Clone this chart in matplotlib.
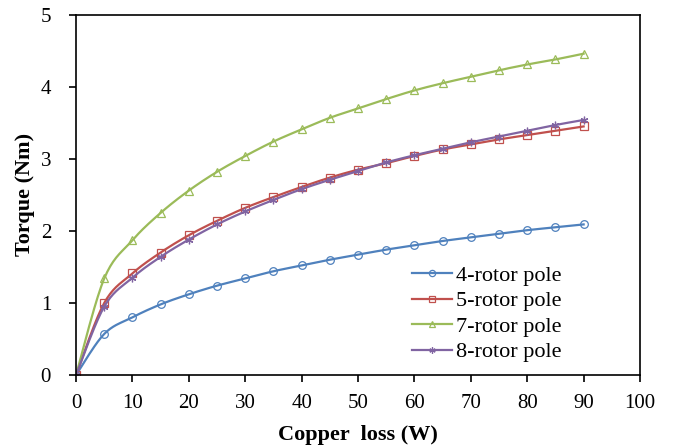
import numpy as np
import matplotlib.pyplot as plt

plt.rcParams['font.family'] = ['Liberation Serif', 'DejaVu Serif']

loss = [0, 5, 10, 15, 20, 25, 30, 35, 40, 45, 50, 55, 60, 65, 70, 75, 80, 85, 90]
pole4 = [0, 0.57, 0.80, 0.98, 1.12, 1.24, 1.34, 1.44, 1.52, 1.60, 1.67, 1.74, 1.80, 1.86, 1.91, 1.96, 2.01, 2.05, 2.09]
pole5 = [0, 1.00, 1.41, 1.70, 1.94, 2.14, 2.32, 2.47, 2.61, 2.74, 2.85, 2.94, 3.04, 3.13, 3.20, 3.27, 3.33, 3.39, 3.45]
pole7 = [0, 1.34, 1.87, 2.25, 2.56, 2.82, 3.04, 3.24, 3.41, 3.57, 3.70, 3.83, 3.95, 4.05, 4.14, 4.23, 4.31, 4.38, 4.46]
pole8 = [0, 0.95, 1.35, 1.64, 1.88, 2.09, 2.27, 2.43, 2.58, 2.71, 2.83, 2.95, 3.05, 3.14, 3.23, 3.31, 3.39, 3.47, 3.54]
labels = ['4-rotor pole', '5-rotor pole', '7-rotor pole', '8-rotor pole']


def smooth(x, y, n=20):
    # bezier smoothing through the points, like excel's smoothed line
    x = np.asarray(x, float)
    y = np.asarray(y, float)
    xs, ys = [], []
    for i in range(len(x) - 1):
        x0, y0 = (x[i - 1], y[i - 1]) if i > 0 else (x[i], y[i])
        x3, y3 = (x[i + 2], y[i + 2]) if i + 2 < len(x) else (x[i + 1], y[i + 1])
        c1x = x[i] + (x[i + 1] - x0) / 6
        c1y = y[i] + (y[i + 1] - y0) / 6
        c2x = x[i + 1] - (x3 - x[i]) / 6
        c2y = y[i + 1] - (y3 - y[i]) / 6
        t = np.linspace(0, 1, n)
        b0, b1, b2, b3 = (1 - t) ** 3, 3 * t * (1 - t) ** 2, 3 * t ** 2 * (1 - t), t ** 3
        xs.append(b0 * x[i] + b1 * c1x + b2 * c2x + b3 * x[i + 1])
        ys.append(b0 * y[i] + b1 * c1y + b2 * c2y + b3 * y[i + 1])
    return np.concatenate(xs), np.concatenate(ys)


fig = plt.figure(figsize=(6.73, 4.48), dpi=100)
ax = fig.add_axes([0.113, 0.163, 0.838, 0.804])

series = [pole4, pole5, pole7, pole8]
colors = ['#4F81BD', '#C0504D', '#9BBB59', '#8064A2']
markers = ['o', 's', '^', (6, 2, 0)]
for y, c, m, lab in zip(series, colors, markers, labels):
    sx, sy = smooth(loss, y)
    ax.plot(sx, sy, color=c, lw=1.6)
    ax.plot(loss, y, ls='none', marker=m, ms=5.5, mfc='none', mec=c, mew=0.9)
    ax.plot([], [], color=c, lw=1.6, marker=m, ms=4.5, mfc='none', mec=c, mew=0.9, label=lab)

ax.set_xlim(0, 100)
ax.set_ylim(0, 5)
ax.set_xticks(range(0, 101, 10))
ax.set_yticks(range(0, 6))
ax.tick_params(direction='out', length=5, width=1.2, labelsize=15)
ax.tick_params(axis='x', pad=9)
ax.tick_params(axis='y', pad=13)
for s in ax.spines.values():
    s.set_linewidth(1.2)
ax.set_xlabel('Copper  loss (W)', fontsize=16, fontweight='bold', labelpad=8)
ax.set_ylabel('Torque (Nm)', fontsize=16, fontweight='bold', labelpad=4)
ax.legend(loc='lower left', bbox_to_anchor=(0.596, 0.035), frameon=False, fontsize=16,
          handlelength=1.8, handletextpad=0.15, labelspacing=0.22,
          borderpad=0, borderaxespad=0)

fig.savefig('out.png', dpi=100)
